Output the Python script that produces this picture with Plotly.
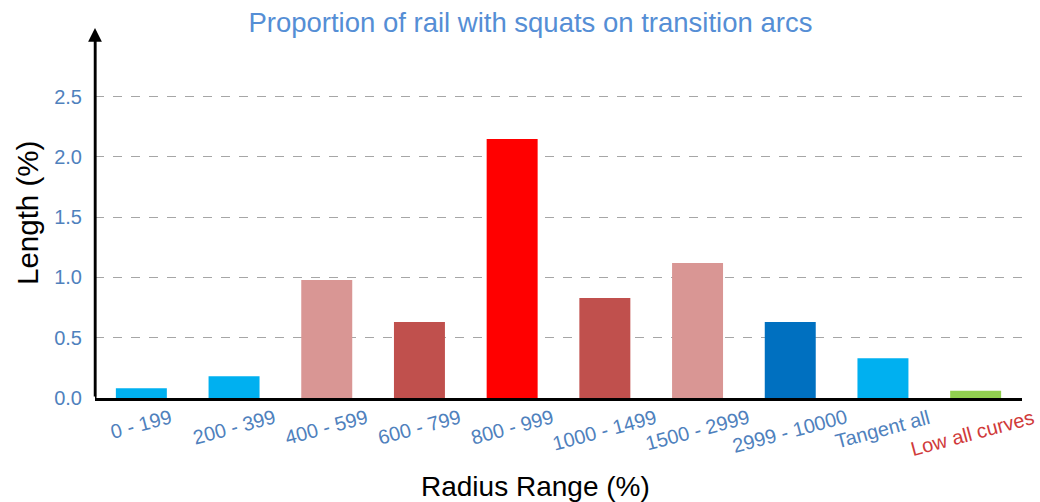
import plotly.graph_objects as go

categories = ["0 - 199", "200 - 399", "400 - 599", "600 - 799", "800 - 999",
              "1000 - 1499", "1500 - 2999", "2999 - 10000", "Tangent all", "Low all curves"]
values = [0.08, 0.18, 0.98, 0.63, 2.15, 0.83, 1.12, 0.63, 0.33, 0.06]
bar_colors = ["#00B0F0", "#00B0F0", "#D99694", "#C0504D", "#FF0000",
              "#C0504D", "#D99694", "#0070C0", "#00B0F0", "#92D050"]
label_colors = ["#4F81BD"] * 9 + ["#D03A3A"]
y_ticks = [0.0, 0.5, 1.0, 1.5, 2.0, 2.5]
y_top = 3.07

FONT = "Liberation Sans, Arial, sans-serif"
W, H = 1040, 502
ML, MR, MT, MB = 95, 18, 28, 104

fig = go.Figure()
fig.add_trace(go.Bar(x=list(range(len(categories))), y=values,
                     marker=dict(color=bar_colors, line=dict(width=0)),
                     width=0.55, hoverinfo="skip"))

annotations = []
for i, (c, col) in enumerate(zip(categories, label_colors)):
    annotations.append(dict(x=i, y=0, xref="x", yref="paper", text=c, showarrow=False,
                            textangle=-15, xanchor="center", yanchor="top", yshift=-5,
                            xshift=-3 if i == len(categories) - 1 else 0,
                            font=dict(family=FONT, size=20, color=col)))
# y axis arrow
annotations.append(dict(x=-0.5, y=y_top, ax=-0.5, ay=0, xref="x", yref="y", axref="x", ayref="y",
                        text="", showarrow=True, arrowhead=2, arrowsize=1.1, arrowwidth=2.5,
                        arrowcolor="black", standoff=0, startstandoff=0))
# axis titles
annotations.append(dict(x=0.475, y=-(486 - (H - MB)) / (H - MT - MB), xref="paper", yref="paper",
                        text="Radius Range (%)", showarrow=False, xanchor="center", yanchor="middle",
                        font=dict(family=FONT, size=28, color="black")))
annotations.append(dict(x=-(ML - 27) / (W - ML - MR), y=(H - MB - 213) / (H - MT - MB),
                        xref="paper", yref="paper", text="Length (%)", showarrow=False,
                        textangle=-90, xanchor="center", yanchor="middle",
                        font=dict(family=FONT, size=29.5, color="black")))

fig.update_layout(
    width=W, height=H,
    margin=dict(l=ML, r=MR, t=MT, b=MB, autoexpand=False),
    plot_bgcolor="white", paper_bgcolor="white",
    showlegend=False,
    title=dict(text="Proportion of rail with squats on transition arcs", x=0.51, xanchor="center",
               y=1 - 22 / H, yanchor="middle",
               font=dict(family=FONT, size=27.5, color="#558ED5")),
    xaxis=dict(range=[-0.5, len(categories) - 0.5], showticklabels=False, showgrid=False,
               zeroline=False, showline=True, linecolor="black", linewidth=3, automargin=False),
    yaxis=dict(range=[0, y_top], tickvals=y_ticks, ticktext=[f"{v:.1f}" for v in y_ticks],
               showgrid=True, gridcolor="#A6A6A6", griddash="dash", gridwidth=1.2,
               zeroline=False, showline=False, ticks="", ticklabelstandoff=12, automargin=False,
               tickfont=dict(family=FONT, size=20, color="#4F81BD")),
    annotations=annotations,
    hovermode=False,
)
fig.add_shape(type="line", xref="x", yref="y", x0=-0.5, x1=-0.5, y0=0, y1=y_top - 0.05,
              line=dict(color="black", width=3))

fig.write_html("out.html", config={"displayModeBar": False},
               post_script="document.body.style.margin='0';document.body.style.overflow='hidden';")
